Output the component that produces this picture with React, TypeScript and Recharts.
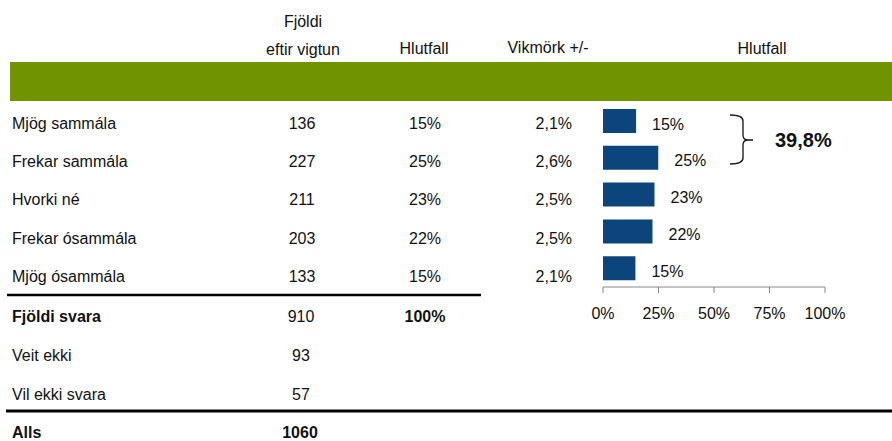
import { BarChart, Bar, XAxis, YAxis, LabelList } from 'recharts';

// Svarmöguleikar og niðurstöður
const categories = ['Mjög sammála', 'Frekar sammála', 'Hvorki né', 'Frekar ósammála', 'Mjög ósammála'];
const counts = [136, 227, 211, 203, 133];
const shares = ['15%', '25%', '23%', '22%', '15%'];
const errorMargins = ['2,1%', '2,6%', '2,5%', '2,5%', '2,1%'];
const percents = [14.9, 24.9, 23.2, 22.3, 14.6];

// Neðri hluti töflunnar
const summaryLabels = ['Fjöldi svara', 'Veit ekki', 'Vil ekki svara'];
const summaryCounts = [910, 93, 57];
const summaryShares = ['100%', '', ''];
const totalLabel = 'Alls';
const totalCount = 1060;

const xTicks = [0, 25, 50, 75, 100];
const topTwoShare = '39,8%';

const FONT = '"Liberation Sans", Arial, sans-serif';
const TEXT = '#111';
const BAR = '#0b457c';
const GREEN = '#709400';

const chartData = categories.map((name, i) => ({ name, value: percents[i] }));

const BarValueLabel = (props: any) => {
  const { x, y, width, height, value } = props;
  return (
    <text
      x={Number(x) + Number(width) + 16}
      y={Number(y) + Number(height) / 2 + 3}
      dominantBaseline="central"
      fontFamily={FONT}
      fontSize={16}
      fill={TEXT}
    >
      {Math.round(Number(value))}%
    </text>
  );
};

export default function App() {
  const rowY = (i: number) => 129 + i * 38.2;
  const sumY = [322, 361, 400];

  return (
    <div style={{ position: 'absolute', left: 0, top: 0, width: 892, height: 441, background: '#fff' }}>
      <svg width={892} height={441} style={{ position: 'absolute', left: 0, top: 0 }} fontFamily={FONT} fontSize={16} fill={TEXT}>
        {/* fyrirsagnir */}
        <text x={303} y={27} textAnchor="middle">Fjöldi</text>
        <text x={303} y={55} textAnchor="middle">eftir vigtun</text>
        <text x={424} y={54} textAnchor="middle">Hlutfall</text>
        <text x={548} y={53} textAnchor="middle">Vikmörk +/-</text>
        <text x={762} y={54} textAnchor="middle">Hlutfall</text>
        <rect x={10} y={62} width={882} height={39} fill={GREEN} />

        {categories.map((c, i) => (
          <g key={c}>
            <text x={12} y={rowY(i)}>{c}</text>
            <text x={302} y={rowY(i)} textAnchor="middle">{counts[i]}</text>
            <text x={425} y={rowY(i)} textAnchor="middle">{shares[i]}</text>
            <text x={572} y={rowY(i)} textAnchor="end">{errorMargins[i]}</text>
          </g>
        ))}

        <line x1={7} x2={481} y1={295} y2={295} stroke="#000" strokeWidth={2.5} />

        {summaryLabels.map((c, i) => (
          <g key={c} fontWeight={i === 0 ? 'bold' : 'normal'}>
            <text x={12} y={sumY[i]}>{c}</text>
            <text x={301} y={sumY[i]} textAnchor="middle" fontWeight="normal">{summaryCounts[i]}</text>
            {summaryShares[i] && <text x={425} y={sumY[i]} textAnchor="middle">{summaryShares[i]}</text>}
          </g>
        ))}

        <line x1={6} x2={892} y1={411} y2={411} stroke="#000" strokeWidth={3} />
        <text x={12} y={438} fontWeight="bold">{totalLabel}</text>
        <text x={300} y={438} textAnchor="middle" fontWeight="bold">{totalCount}</text>

        {/* slaufa fyrir tvo efstu flokka */}
        <path
          d="M730,115 Q743,115 743,121 L743,135 Q743,140 748,140 L753,140 M748,140 Q743,140 743,145 L743,158 Q743,164 730,164"
          fill="none"
          stroke={TEXT}
          strokeWidth={1.3}
        />
        <text x={775} y={147} fontSize={20} fontWeight="bold">{topTwoShare}</text>
      </svg>

      <div style={{ position: 'absolute', left: 0, top: 0 }}>
        <BarChart
          width={892}
          height={441}
          data={chartData}
          layout="vertical"
          margin={{ top: 103, right: 67, bottom: 124, left: 603 }}
        >
          <XAxis
            type="number"
            domain={[0, 100]}
            ticks={xTicks}
            height={30}
            tickFormatter={(v: number) => `${v}%`}
            axisLine={{ stroke: '#888' }}
            tickLine={{ stroke: '#888' }}
            tickSize={6}
            tickMargin={15}
            tick={{ fill: TEXT, fontSize: 16, fontFamily: FONT }}
            interval={0}
          />
          <YAxis type="category" dataKey="name" hide />
          <Bar dataKey="value" fill={BAR} barSize={24} isAnimationActive={false}>
            <LabelList dataKey="value" content={BarValueLabel} />
          </Bar>
        </BarChart>
      </div>
    </div>
  );
}
